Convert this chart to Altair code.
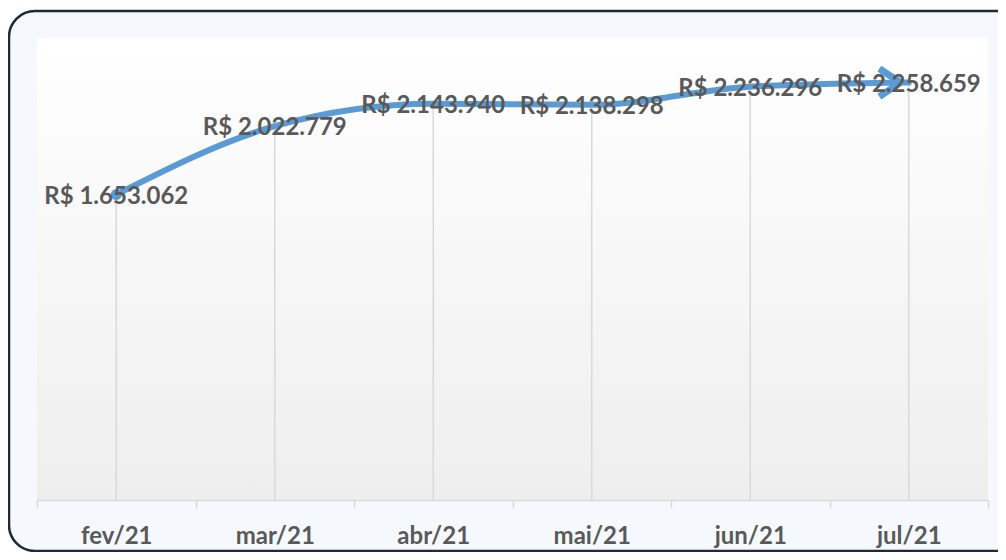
import altair as alt
import pandas as pd

months = ["fev/21", "mar/21", "abr/21", "mai/21", "jun/21", "jul/21"]
values = [1653062, 2022779, 2143940, 2138298, 2236296, 2258659]
labels = ["R$ " + f"{v:,}".replace(",", ".") for v in values]

df = pd.DataFrame({"month": months, "value": values, "label": labels})
one = pd.DataFrame({"k": [0]})

W, H = 951, 462
FONT = "Lato"
TXT = "#595959"
BLUE = "#5b9bd5"

xenc = alt.X("month:N", sort=months, title=None,
             scale=alt.Scale(paddingInner=0, paddingOuter=0),
             axis=alt.Axis(labelAngle=0, tickBand="extent", tickSize=8, tickColor="#d9d9d9",
                           domainColor="#d9d9d9", domainWidth=1.5, tickWidth=1.5, grid=False,
                           labelFont=FONT, labelFontSize=24, labelFontWeight="bold",
                           labelColor=TXT, labelPadding=16, zindex=2))
yenc = alt.Y("value:Q", scale=alt.Scale(domain=[0, 2500000]), axis=None)

frame = alt.Chart(one).mark_rect(fill="#f5f9fd", stroke="#1f2a37", strokeWidth=2.5,
                                 cornerRadius=26).encode(
    x=alt.value(-28), x2=alt.value(W + 200), y=alt.value(-27), y2=alt.value(H + 51))

plotbg = alt.Chart(one).mark_rect(
    color=alt.Gradient(gradient="linear",
                       stops=[alt.GradientStop(color="#ffffff", offset=0),
                              alt.GradientStop(color="#eeeeee", offset=1)],
                       x1=0, x2=0, y1=0, y2=1)).encode(
    x=alt.value(0), x2=alt.value(W), y=alt.value(0), y2=alt.value(H))

base = alt.Chart(df)

drops = base.mark_rule(color="#d9d9d9", strokeWidth=1.5).encode(
    x=xenc, y=yenc, y2=alt.datum(0))

line = base.mark_line(interpolate="monotone", strokeWidth=6, color=BLUE,
                      strokeCap="round").encode(x=xenc, y=yenc)

start = base.mark_circle(size=120, color=BLUE, opacity=1).encode(x=xenc, y=yenc).transform_filter(
    alt.datum.month == months[0])

arrow = base.mark_point(shape="M-2.1,-1L-0.6,0L-2.1,1", size=784, filled=False, strokeWidth=7,
                        color=BLUE, opacity=1, strokeJoin="miter", strokeCap="butt").encode(
    x=xenc, y=yenc).transform_filter(alt.datum.month == months[-1])

text = base.mark_text(font=FONT, fontSize=24, fontWeight="bold", color=TXT,
                      baseline="middle", align="center", dy=2).encode(
    x=xenc, y=yenc, text="label:N")

chart = alt.layer(frame, plotbg, drops, line, start, arrow, text).properties(
    width=W, height=H,
    padding={"left": 29, "top": 30, "right": 10, "bottom": 52},
    autosize=alt.AutoSizeParams(type="none"),
    background="#ffffff",
).configure_view(stroke=None)

chart.save("out.html", embed_options={"renderer": "svg", "actions": False})
